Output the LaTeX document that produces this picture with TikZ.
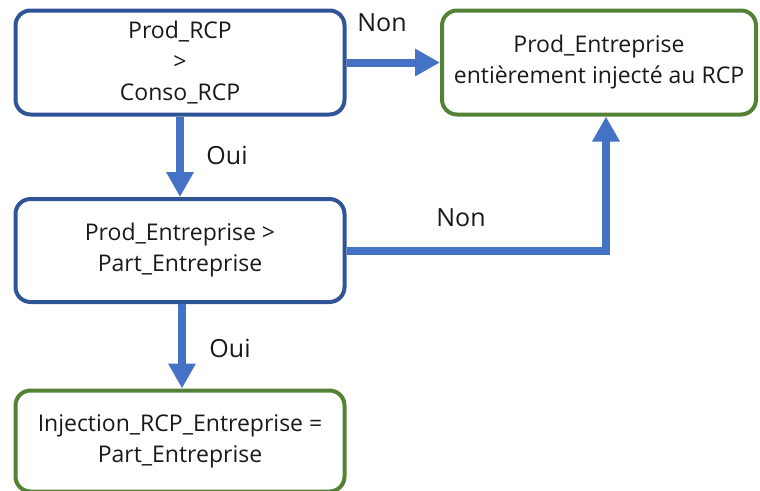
\documentclass[tikz,border=0pt]{standalone}
\usepackage{fontspec}
\setmainfont{Open Sans}
\usetikzlibrary{arrows.meta}
\definecolor{boxblue}{HTML}{2F5597}
\definecolor{boxgreen}{HTML}{548235}
\definecolor{arrblue}{HTML}{4472C4}
\tikzset{
  flowbox/.style={draw, line width=4pt, rounded corners=15pt, inner sep=0pt,
    align=center, font=\fontsize{23}{31}\selectfont, text=black!90},
  bluebox/.style={flowbox, draw=boxblue},
  greenbox/.style={flowbox, draw=boxgreen},
  arr/.style={draw=arrblue, line width=8pt,
    -{Triangle[length=25pt, width=26pt, fill=arrblue]}},
  lbl/.style={font=\fontsize{25}{30}\selectfont, text=black!90, inner sep=0pt}
}
\begin{document}
\begin{tikzpicture}[x=1pt, y=-1pt]
\useasboundingbox (0,0) rectangle (760,490);
\node[bluebox, minimum width=329pt, minimum height=104pt] (b1) at (180,62.5)
  {Prod\_RCP\\>\\Conso\_RCP};
\node[greenbox, minimum width=314pt, minimum height=104pt] (b2) at (599,62.5)
  {Prod\_Entreprise\\entièrement injecté au RCP};
\node[bluebox, minimum width=329pt, minimum height=103pt] (b3) at (180,250.5)
  {Prod\_Entreprise >\\Part\_Entreprise};
\node[greenbox, minimum width=329pt, minimum height=101pt] (b4) at (180,441)
  {Injection\_RCP\_Entreprise =\\Part\_Entreprise};
\draw[arr] (b1.south) -- (b3.north);
\draw[arr] (b1.east) -- (b2.west);
\draw[arr] (b3.east) -| ([xshift=7pt]b2.south);
\draw[arr] ([xshift=2pt]b3.south) -- ([xshift=2pt]b4.north);
\node[lbl] (l1) at (382,23) {Non};
\node[lbl] (l2) at (227,155) {Oui};
\node[lbl] (l3) at (461,218) {Non};
\node[lbl] (l4) at (230,348) {Oui};
\end{tikzpicture}
\end{document}
